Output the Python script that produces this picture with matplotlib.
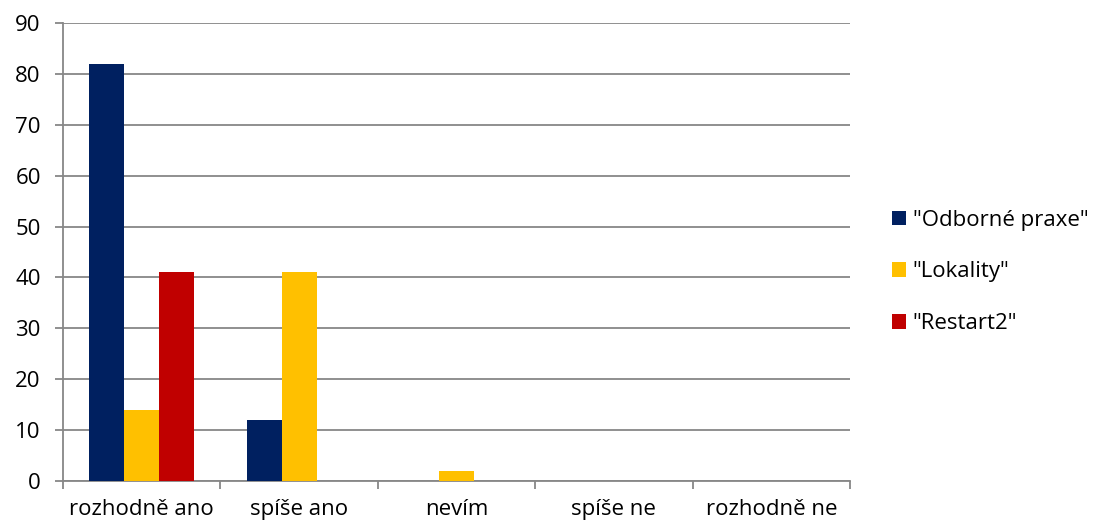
import numpy as np
import matplotlib.pyplot as plt
from matplotlib.patches import Patch

categories = ['rozhodně ano', 'spíše ano', 'nevím', 'spíše ne', 'rozhodně ne']
series_names = ['"Odborné praxe"', '"Lokality"', '"Restart2"']
odborne_praxe = [82, 12, 0, 0, 0]
lokality = [14, 41, 2, 0, 0]
restart2 = [41, 0, 0, 0, 0]
y_ticks = [0, 10, 20, 30, 40, 50, 60, 70, 80, 90]

colors = ['#002060', '#FFC000', '#C00000']
grid_col = '#878787'

plt.rcParams['font.family'] = ['Open Sans', 'DejaVu Sans']
fs = 16

fig = plt.figure(figsize=(10.99, 5.25), dpi=100)
ax = fig.add_axes([63 / 1099, 1 - 481 / 525, 787 / 1099, 458 / 525])

x = np.arange(len(categories))
w = 0.222
for i, (vals, c) in enumerate(zip([odborne_praxe, lokality, restart2], colors)):
    ax.bar(x + (i - 1) * w, vals, width=w, color=c, zorder=3)

ax.set_xlim(-0.5, len(categories) - 0.5)
ax.set_ylim(0, 90)
ax.set_yticks(y_ticks)
ax.yaxis.grid(True, color=grid_col, linewidth=1.3, zorder=0)

# category labels sit between the boundary ticks
ax.set_xticks(np.arange(len(categories) + 1) - 0.5)
ax.set_xticklabels([])
ax.set_xticks(x, minor=True)
ax.set_xticklabels(categories, minor=True)
ax.tick_params(axis='x', which='minor', length=0, pad=13, labelsize=fs)
ax.tick_params(axis='x', which='major', length=6, width=1.3, color=grid_col)
ax.tick_params(axis='y', length=6, width=1.3, color=grid_col, labelsize=fs, pad=10)

for s in ['top', 'right']:
    ax.spines[s].set_visible(False)
for s in ['left', 'bottom']:
    ax.spines[s].set_color(grid_col)
    ax.spines[s].set_linewidth(1.3)

handles = [Patch(facecolor=c) for c in colors]
fig.legend(handles, series_names, loc='center left', bbox_to_anchor=(0.7935, 0.482),
           frameon=False, fontsize=fs, handlelength=0.63, handleheight=0.63,
           handletextpad=0.3, labelspacing=1.38)

fig.savefig('out.png', dpi=100)
